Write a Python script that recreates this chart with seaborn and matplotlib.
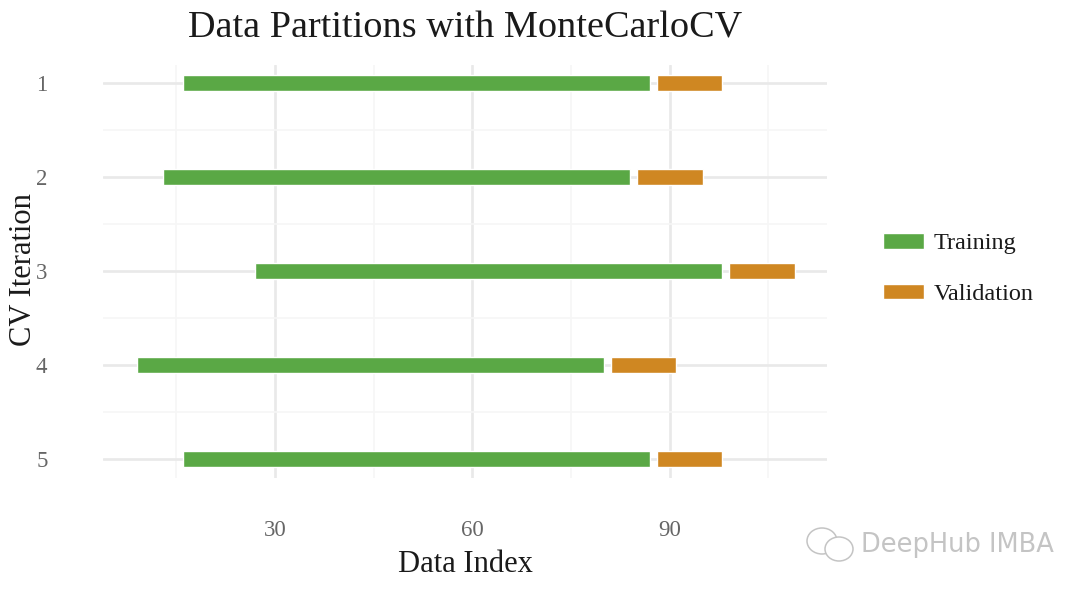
import matplotlib
matplotlib.use("Agg")
import matplotlib.pyplot as plt
import pandas as pd
import seaborn as sns
from matplotlib.patches import Ellipse, Patch

iterations = ["1", "2", "3", "4", "5"]
train_start = [16, 13, 27, 9, 16]
train_end = [87, 84, 98, 80, 87]
val_start = [88, 85, 99, 81, 88]
val_end = [98, 95, 109, 91, 98]
x_ticks = [30, 60, 90]
x_minor = [15, 45, 75, 105]

GREEN = "#5AA845"
ORANGE = "#CF8722"
W, H = 1080, 595

sns.set_theme(style="white")
plt.rcParams["font.family"] = ["Liberation Serif", "DejaVu Serif"]

train = pd.DataFrame({"iteration": iterations, "start": train_start, "end": train_end})
val = pd.DataFrame({"iteration": iterations, "start": val_start, "end": val_end})

fig = plt.figure(figsize=(W / 100, H / 100), dpi=100)
ax = fig.add_axes([103 / W, 1 - 478 / H, (827 - 103) / W, (478 - 65) / H])

for df, color in [(train, GREEN), (val, ORANGE)]:
    sns.barplot(data=df, x=df["end"] - df["start"], y="iteration", left=df["start"],
                color=color, saturation=1, width=0.165, order=iterations, ax=ax)

ax.set_xlim(3.85, 113.9)
ax.set_ylim(4 + 19 / 94, -18 / 94)
ax.set_xticks(x_ticks)
ax.set_xticks(x_minor, minor=True)
ax.set_yticks(range(5))
ax.set_yticks([0.5, 1.5, 2.5, 3.5], minor=True)
ax.set_axisbelow(True)
ax.grid(which="major", color="#E9E9E9", linewidth=1.9)
ax.grid(which="minor", color="#F6F6F6", linewidth=1.2)
sns.despine(ax=ax, left=True, bottom=True, right=True, top=True)
ax.tick_params(which="both", length=0)
ax.tick_params(axis="x", labelsize=16.5, labelcolor="#666666", pad=30)
ax.tick_params(axis="y", labelsize=16.5, labelcolor="#666666", pad=40)
ax.set_xlabel("")
ax.set_ylabel("")

fig.text(465 / W, 1 - 28 / H, "Data Partitions with MonteCarloCV", ha="center", va="center",
         fontsize=27.5, color="#1A1A1A")
fig.text(465 / W, 1 - 564 / H, "Data Index", ha="center", va="center",
         fontsize=22, color="#1A1A1A")
fig.text(24 / W, 1 - 270 / H, "CV Iteration", ha="center", va="center", rotation=90,
         fontsize=22, color="#1A1A1A")

handles = [Patch(facecolor=GREEN, label="Training"), Patch(facecolor=ORANGE, label="Validation")]
fig.legend(handles=handles, loc="center left", bbox_to_anchor=(883 / W, 1 - 269 / H),
           frameon=False, fontsize=17.5, labelcolor="#1A1A1A", handlelength=1.69,
           handleheight=0.62, labelspacing=1.2, handletextpad=0.38, borderaxespad=0, borderpad=0)

# watermark, bottom right
fig.text(861 / W, 1 - 545 / H, "DeepHub IMBA", ha="left", va="center", fontsize=18.5,
         family="DejaVu Sans", color="#C4C4C4")
for cx, cy, ew, eh in [(822, 541, 30, 26), (839, 549, 28, 24)]:
    fig.add_artist(Ellipse((cx / W, 1 - cy / H), ew / W, eh / H, transform=fig.transFigure,
                           facecolor="white", edgecolor="#C4C4C4", linewidth=1.1))

fig.savefig("out.png", dpi=100)
